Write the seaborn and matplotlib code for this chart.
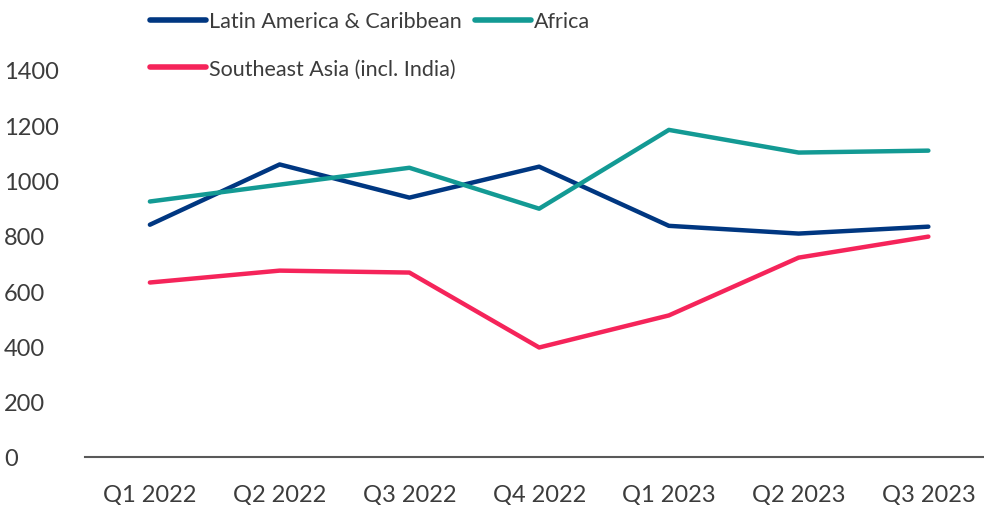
import matplotlib
matplotlib.use("Agg")
import matplotlib.pyplot as plt
import matplotlib.transforms as mtrans
import seaborn as sns
import pandas as pd

quarters = ["Q1 2022", "Q2 2022", "Q3 2022", "Q4 2022", "Q1 2023", "Q2 2023", "Q3 2023"]
latam = [840, 1058, 938, 1050, 836, 808, 833]
africa = [924, 985, 1046, 898, 1183, 1101, 1108]
seasia = [631, 674, 667, 396, 512, 721, 797]
series_names = ["Latin America & Caribbean", "Africa", "Southeast Asia (incl. India)"]
colors = {"Latin America & Caribbean": "#003781",
          "Africa": "#139A94",
          "Southeast Asia (incl. India)": "#F5245A"}

rows = []
for name, vals in zip(series_names, [latam, africa, seasia]):
    for i, (q, v) in enumerate(zip(quarters, vals)):
        rows.append({"quarter": q, "idx": i, "value": v, "series": name})
df = pd.DataFrame(rows)

sns.set_theme(style="white")
plt.rcParams["font.family"] = ["Lato", "DejaVu Sans"]

fig = plt.figure(figsize=(9.84, 5.06), dpi=100)
ax = fig.add_axes([0.0864, 0.0949, 0.923, 0.765])
sns.lineplot(data=df, x="idx", y="value", hue="series", palette=colors,
             hue_order=series_names, linewidth=3.2, ax=ax, legend=False,
             solid_capstyle="round")

ax.set_xlim(-0.5, 6.5)
ax.set_ylim(0, 1400)
ax.set_yticks(range(0, 1401, 200))
ax.set_xticks(range(len(quarters)))
ax.set_xticklabels(quarters)
ax.set_xlabel("")
ax.set_ylabel("")
for s in ["top", "right", "left"]:
    ax.spines[s].set_visible(False)
ax.spines["bottom"].set_color("#595959")
ax.spines["bottom"].set_linewidth(1.5)
ax.tick_params(axis="both", length=0, labelsize=17, labelcolor="#3c3c3c")
ax.tick_params(axis="x", pad=19)
ax.yaxis.set_tick_params(pad=0)
for lab in ax.get_yticklabels():
    lab.set_horizontalalignment("left")
    lab.set_transform(mtrans.blended_transform_factory(fig.transFigure, ax.transData))
    lab.set_x(0.004)

order = ["Latin America & Caribbean", "Southeast Asia (incl. India)", "Africa"]
handles = [plt.Line2D([], [], color=colors[n], linewidth=4, solid_capstyle="round") for n in order]
fig.legend(handles, order, ncol=2, loc="upper left", bbox_to_anchor=(0.133, 1.014),
           frameon=False, prop={"size": 15.5},
           labelcolor="#3c3c3c", handlelength=2.6,
           handletextpad=0.15, columnspacing=0.6, labelspacing=1.28)

fig.savefig("out.png", dpi=100)
